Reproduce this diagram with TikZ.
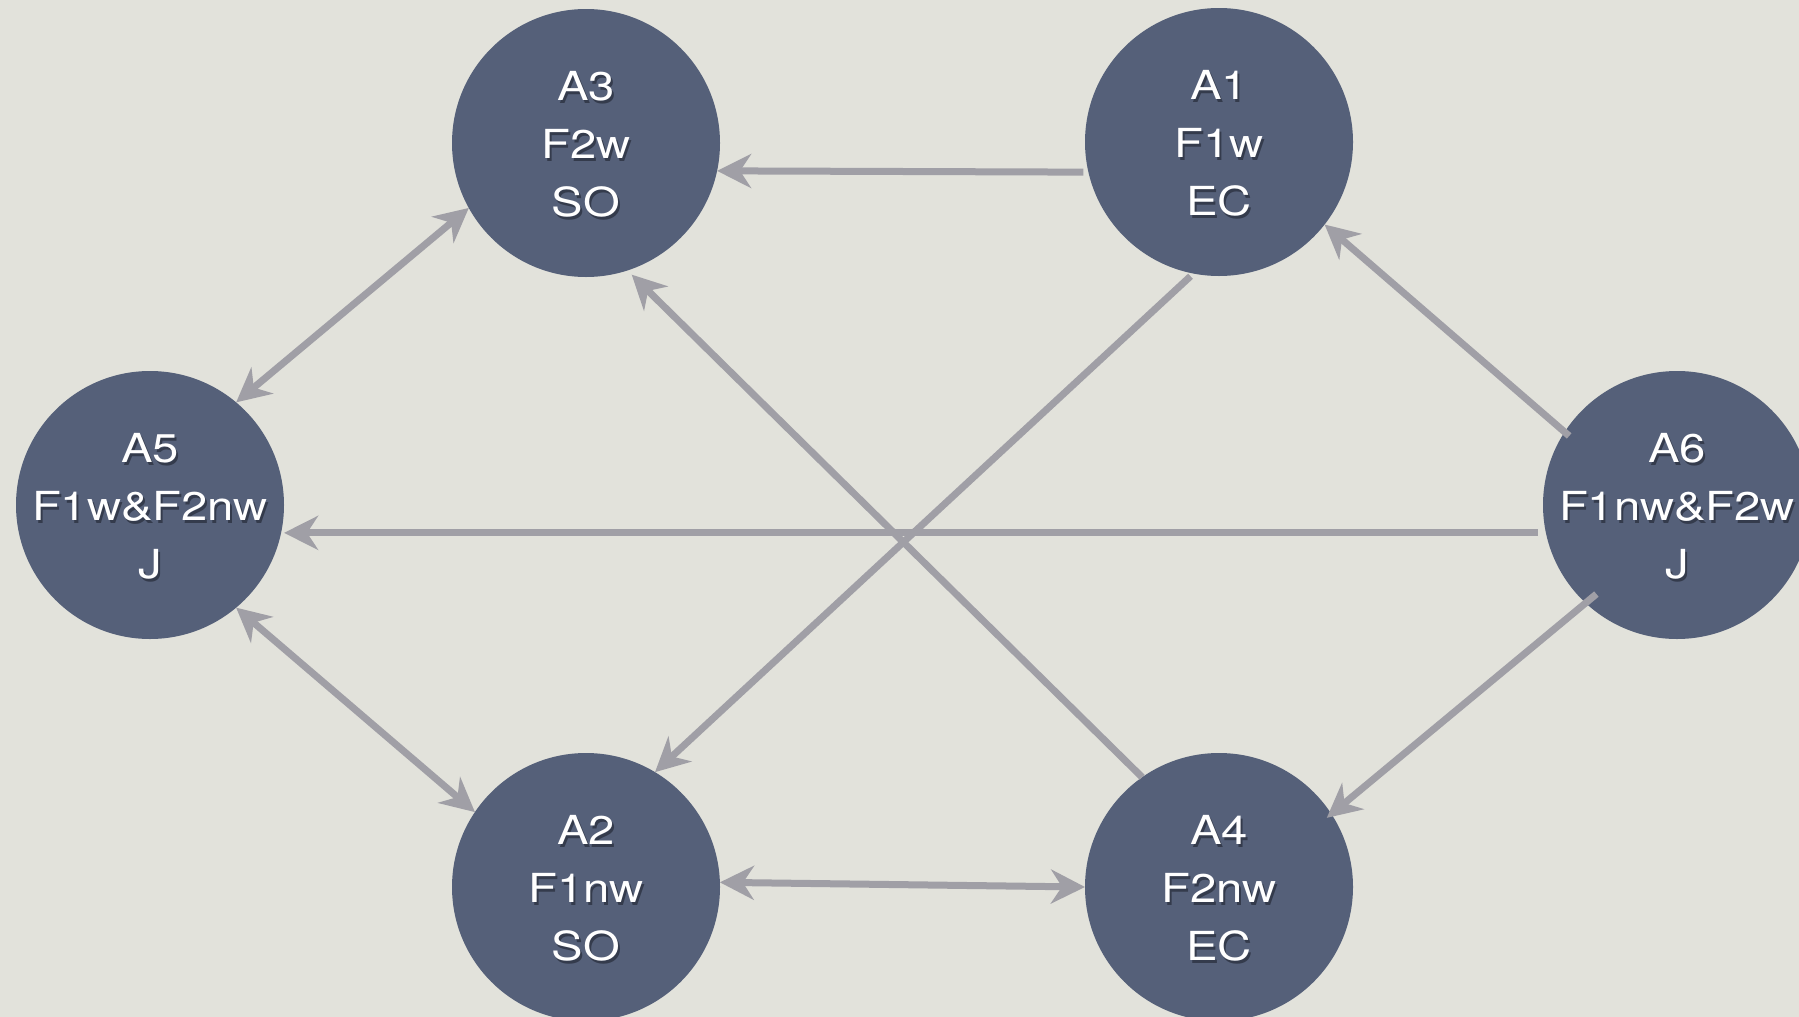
\documentclass[tikz,border=0pt]{standalone}
\usepackage{fontspec}
\setmainfont{TeX Gyre Heros}[FakeStretch=1.18]
\usetikzlibrary{arrows.meta}

\definecolor{paper}{HTML}{E2E2DB}
\definecolor{disc}{HTML}{556079}
\definecolor{link}{HTML}{A09FA6}
\definecolor{shade}{HTML}{343B4C}

% three centred lines of white lettering with a drop shadow,
% set in a box of no size so that it does not widen the disc
\newcommand\stack[1]{\begin{tabular}[t]{@{}c@{}}#1\end{tabular}}
\newcommand\embossed[1]{%
  \smash{\makebox[0pt]{\raisebox{43pt}{%
    \rlap{\hspace{2pt}\raisebox{-3pt}{\color{shade}\stack{#1}}}%
    {\color{white}\stack{#1}}}}}}

\tikzset{
  state/.style={circle, fill=disc, minimum size=268pt, inner sep=0pt, outer sep=0pt,
    font=\fontsize{40}{58}\selectfont, text height=0pt, text depth=0pt},
  arr/.style={draw=link, line width=7pt, -{Stealth[length=34pt,width=34pt,inset=11pt]}},
  darr/.style={draw=link, line width=7pt,
    {Stealth[length=34pt,width=34pt,inset=11pt]}-{Stealth[length=34pt,width=34pt,inset=11pt]}}
}

\begin{document}
\begin{tikzpicture}
  \fill[paper] (0pt,0pt) rectangle (1799pt,-1017pt);
  \useasboundingbox (0pt,0pt) rectangle (1799pt,-1017pt);

  % states
  \node[state] (A3) at (586pt,-143pt)  {\embossed{A3\\F2w\\SO}};
  \node[state] (A1) at (1219pt,-142pt) {\embossed{A1\\F1w\\EC}};
  \node[state] (A5) at (150pt,-505pt)  {\embossed{A5\\F1w\&F2nw\\J}};
  \node[state] (A6) at (1677pt,-505pt) {\embossed{A6\\F1nw\&F2w\\J}};
  \node[state] (A2) at (586pt,-887pt)  {\embossed{A2\\F1nw\\SO}};
  \node[state] (A4) at (1219pt,-887pt) {\embossed{A4\\F2nw\\EC}};

  % transitions
  \draw[arr, shorten <=5pt] (A1.193) -- (A3.348);
  \draw[darr] (A3.209) -- (A5.50);
  \draw[darr] (A5.310) -- (A2.146);
  \draw[darr] (A2.2) -- (A4.180);
  \draw[arr, shorten >=6pt] (A4.125) -- (A3.288);
  \draw[arr, shorten <=4pt] (A1.259) -- (A2.59);
  \draw[arr, shorten <=-6pt] (A6.147) -- (A1.322);
  \draw[arr, shorten <=8pt, shorten >=3pt] (A6.192) -- (A5.348);
  \draw[arr, shorten <=-14pt, shorten >=-6pt] (A6.227) -- (A4.33);
\end{tikzpicture}
\end{document}
